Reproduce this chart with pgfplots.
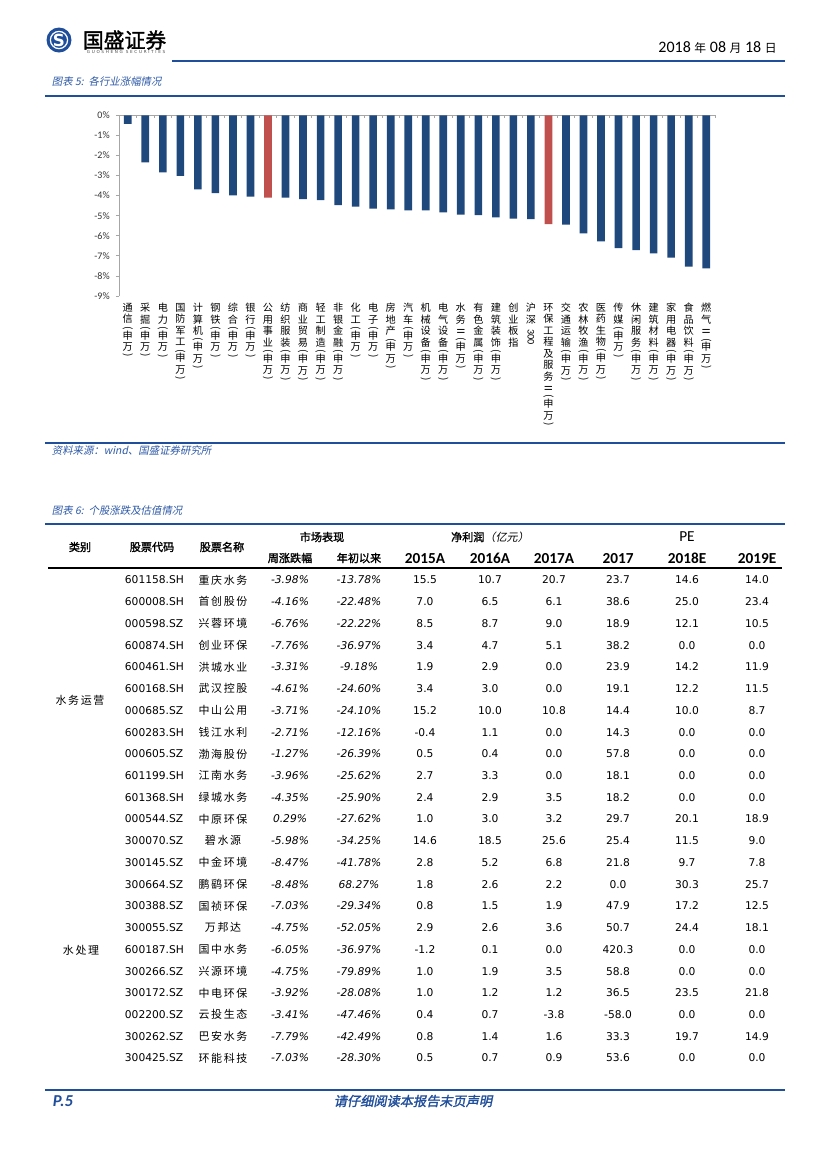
\documentclass[border=0pt]{standalone}
\usepackage{fontspec}
\usepackage{graphicx}
\usepackage{pgfplots}
\pgfplotsset{compat=1.18}
\setmainfont{DejaVu Sans}
\newfontfamily\cjk{Noto Sans CJK SC}
\newfontfamily\cjksp[LetterSpace=15]{Noto Sans CJK SC}
\newfontfamily\cjksl[FakeSlant=0.2]{Noto Sans CJK SC}
\newfontfamily\cjkb[FakeBold=1.5]{Noto Sans CJK SC}
\newfontfamily\cjkbsl[FakeBold=1.5,FakeSlant=0.2]{Noto Sans CJK SC}
\newfontfamily\carl{Carlito}
\newfontfamily\logosp[LetterSpace=40]{DejaVu Sans}
\definecolor{barblue}{HTML}{1F497D}
\definecolor{barred}{HTML}{C0504D}
\definecolor{lineblue}{HTML}{1F4E9A}
\definecolor{capblue}{HTML}{2E5AA7}
\definecolor{axisgray}{HTML}{A6A6A6}

% vertical category labels
\newcommand\sw{\\[-2.5pt]\rotatebox[origin=c]{-90}{(}\\[-2.5pt]申\\万\\[-2.5pt]\rotatebox[origin=c]{-90}{)}}
\newcommand\rII{\rotatebox[origin=c]{90}{Ⅱ}}
\newcommand\numf{\fontsize{7.7}{9}\selectfont}
\newcommand\namef{\cjksp\fontsize{7.9}{9}\selectfont}
\newcommand\headf{\cjkb\fontsize{8}{9}\selectfont}
\newcommand\yearf{\carl\bfseries\fontsize{11}{12}\selectfont}
\newcommand\capf{\cjksl\fontsize{7.5}{9}\selectfont\color{capblue}}

\begin{document}
\begin{tikzpicture}
\path[fill=white,use as bounding box] (0,0) rectangle (595.44pt,-841.68pt);

\begin{scope}[x=0.72pt,y=-0.72pt]
% header
\fill[lineblue] (59,40) circle (9pt);
\draw[white,line width=0.9pt] (59,40) circle (6.2pt);
\node[font=\fontsize{12}{12}\selectfont\bfseries,text=white] at (59,40) {S};
\node[anchor=west,font=\cjkb\fontsize{15}{16}\selectfont] at (78,40) {国盛证券};
\node[anchor=west,font=\logosp\fontsize{3}{3}\selectfont,text=black!70] at (82,52) {GUOSHENG SECURITIES};
\draw[lineblue,line width=1.5pt] (172,61) -- (785,61);
\node[anchor=east,inner sep=0pt] at (777,48) {\carl\fontsize{11.5}{13}\selectfont 2018 {\cjk\fontsize{8.5}{10}\selectfont 年} 08 {\cjk\fontsize{8.5}{10}\selectfont 月} 18 {\cjk\fontsize{8.5}{10}\selectfont 日}};

% figure 5 caption and frame
\node[anchor=west,font=\capf] at (47,82) {图表 5:\, 各行业涨幅情况};
\draw[lineblue,line width=1.5pt] (45,96) -- (785,96);
\draw[lineblue,line width=1.5pt] (45,443) -- (785,443);
\node[anchor=west,font=\capf] at (47,451) {资料来源：wind、国盛证券研究所};

% figure 6 table
\node[anchor=west,font=\capf] at (47,511) {图表 6:\, 个股涨跌及估值情况};
\draw[lineblue,line width=1.5pt] (45,524) -- (785,524);
\node[font=\headf] at (80,547) {类别};
\node[font=\headf] at (152,547) {股票代码};
\node[font=\headf] at (222,547) {股票名称};
\node[font=\headf] at (322,537) {市场表现};
\node[font=\headf] at (290,558) {周涨跌幅};
\node[font=\headf] at (359,558) {年初以来};
\node at (490,537) {{\headf 净利润}{\cjksl\fontsize{8}{9}\selectfont （亿元）}};
\node[font=\carl\fontsize{11}{12}\selectfont,anchor=base] at (687,541) {PE};
\node[font=\yearf,anchor=base] at (425,563) {2015A};
\node[font=\yearf,anchor=base] at (490,563) {2016A};
\node[font=\yearf,anchor=base] at (554,563) {2017A};
\node[font=\yearf,anchor=base] at (618,563) {2017};
\node[font=\yearf,anchor=base] at (687,563) {2018E};
\node[font=\yearf,anchor=base] at (757,563) {2019E};
\draw[black,line width=0.8pt] (48,568) -- (782,568);

\foreach \ri/\rc/\rn/\pa/\pb/\va/\vb/\vc/\vd/\ve/\vf in {
 1/601158.SH/重庆水务/-3.98/-13.78/15.5/10.7/20.7/23.7/14.6/14.0,
 2/600008.SH/首创股份/-4.16/-22.48/7.0/6.5/6.1/38.6/25.0/23.4,
 3/000598.SZ/兴蓉环境/-6.76/-22.22/8.5/8.7/9.0/18.9/12.1/10.5,
 4/600874.SH/创业环保/-7.76/-36.97/3.4/4.7/5.1/38.2/0.0/0.0,
 5/600461.SH/洪城水业/-3.31/-9.18/1.9/2.9/0.0/23.9/14.2/11.9,
 6/600168.SH/武汉控股/-4.61/-24.60/3.4/3.0/0.0/19.1/12.2/11.5,
 7/000685.SZ/中山公用/-3.71/-24.10/15.2/10.0/10.8/14.4/10.0/8.7,
 8/600283.SH/钱江水利/-2.71/-12.16/-0.4/1.1/0.0/14.3/0.0/0.0,
 9/000605.SZ/渤海股份/-1.27/-26.39/0.5/0.4/0.0/57.8/0.0/0.0,
 10/601199.SH/江南水务/-3.96/-25.62/2.7/3.3/0.0/18.1/0.0/0.0,
 11/601368.SH/绿城水务/-4.35/-25.90/2.4/2.9/3.5/18.2/0.0/0.0,
 12/000544.SZ/中原环保/0.29/-27.62/1.0/3.0/3.2/29.7/20.1/18.9,
 13/300070.SZ/碧水源/-5.98/-34.25/14.6/18.5/25.6/25.4/11.5/9.0,
 14/300145.SZ/中金环境/-8.47/-41.78/2.8/5.2/6.8/21.8/9.7/7.8,
 15/300664.SZ/鹏鹞环保/-8.48/68.27/1.8/2.6/2.2/0.0/30.3/25.7,
 16/300388.SZ/国祯环保/-7.03/-29.34/0.8/1.5/1.9/47.9/17.2/12.5,
 17/300055.SZ/万邦达/-4.75/-52.05/2.9/2.6/3.6/50.7/24.4/18.1,
 18/600187.SH/国中水务/-6.05/-36.97/-1.2/0.1/0.0/420.3/0.0/0.0,
 19/300266.SZ/兴源环境/-4.75/-79.89/1.0/1.9/3.5/58.8/0.0/0.0,
 20/300172.SZ/中电环保/-3.92/-28.08/1.0/1.2/1.2/36.5/23.5/21.8,
 21/002200.SZ/云投生态/-3.41/-47.46/0.4/0.7/-3.8/-58.0/0.0/0.0,
 22/300262.SZ/巴安水务/-7.79/-42.49/0.8/1.4/1.6/33.3/19.7/14.9,
 23/300425.SZ/环能科技/-7.03/-28.30/0.5/0.7/0.9/53.6/0.0/0.0}{
  \pgfmathsetmacro\yy{580+(\ri-1)*21.73}
  \node[anchor=west,font=\numf] at (120,\yy) {\rc};
  \node[font=\namef] at (223,\yy) {\rn};
  \node[font=\numf\itshape] at (290,\yy) {\pa\%};
  \node[font=\numf\itshape] at (359,\yy) {\pb\%};
  \node[font=\numf] at (425,\yy) {\va};
  \node[font=\numf] at (490,\yy) {\vb};
  \node[font=\numf] at (554,\yy) {\vc};
  \node[font=\numf] at (618,\yy) {\vd};
  \node[font=\numf] at (687,\yy) {\ve};
  \node[font=\numf] at (757,\yy) {\vf};
}
\node[font=\namef] at (80,700) {水务运营};
\node[font=\namef] at (81,950) {水处理};

% footer
\draw[lineblue,line width=1.5pt] (45,1090) -- (785,1090);
\node[anchor=west,text=lineblue,font=\carl\bfseries\itshape\fontsize{12}{13}\selectfont] at (48,1101) {P.5};
\node[text=lineblue,font=\cjkbsl\fontsize{9.5}{11}\selectfont] at (413,1101) {请仔细阅读本报告末页声明};
\end{scope}

% chart: bars, y axis and zero line with category ticks
\begin{axis}[
  at={(119*0.72pt,-296*0.72pt)}, anchor=south west,
  scale only axis, width=429.1pt, height=130.1pt,
  xmin=0.5, xmax=34.5, ymin=-9, ymax=0,
  axis x line=top, axis y line=left,
  axis line style={-,draw=axisgray,line width=0.6pt},
  xtick={0.5,1.5,...,34.5}, xticklabel={\relax},
  ytick={-9,-8,...,0},
  yticklabels={-9\%,-8\%,-7\%,-6\%,-5\%,-4\%,-3\%,-2\%,-1\%,0\%},
  tick align=inside, major tick length=2.2pt,
  tick style={draw=axisgray,line width=0.6pt},
  ytick style={xshift=-2.2pt},
  yticklabel style={font=\carl\fontsize{7.2}{8}\selectfont, text=black!80, xshift=-5.5pt, inner sep=1pt},
]
\addplot[ybar, bar width=5.5pt, bar shift=0pt, fill=barblue, draw=none] coordinates {
 (1,-0.42) (2,-2.34) (3,-2.84) (4,-3.01) (5,-3.69) (6,-3.87) (7,-3.99) (8,-4.05)
 (10,-4.10) (11,-4.17) (12,-4.22) (13,-4.47) (14,-4.55) (15,-4.65) (16,-4.68)
 (17,-4.73) (18,-4.73) (19,-4.83) (20,-4.95) (21,-4.97) (22,-5.08) (23,-5.15)
 (24,-5.17) (26,-5.45) (27,-5.88) (28,-6.28) (29,-6.61) (30,-6.71) (31,-6.88)
 (32,-7.09) (33,-7.54) (34,-7.62)
};
\addplot[ybar, bar width=5.5pt, bar shift=0pt, fill=barred, draw=none] coordinates {
 (9,-4.10) (25,-5.42)
};
\end{axis}

% chart: vertical category names below the plot
\begin{axis}[
  at={(119*0.72pt,-296*0.72pt)}, anchor=south west,
  scale only axis, width=429.1pt, height=130.1pt,
  xmin=0.5, xmax=34.5, ymin=-9, ymax=0,
  hide y axis, axis x line*=bottom,
  x axis line style={draw=none},
  xtick={1,2,...,34}, major tick length=0pt, xtick style={draw=none},
  xticklabel style={font=\cjk\fontsize{7.3}{8.3}\selectfont, align=center, anchor=north, inner sep=0pt, yshift=-5pt},
  xticklabels={{通\\信\sw},{采\\掘\sw},{电\\力\sw},{国\\防\\军\\工\sw},{计\\算\\机\sw},{钢\\铁\sw},{综\\合\sw},{银\\行\sw},{公\\用\\事\\业\sw},{纺\\织\\服\\装\sw},{商\\业\\贸\\易\sw},{轻\\工\\制\\造\sw},{非\\银\\金\\融\sw},{化\\工\sw},{电\\子\sw},{房\\地\\产\sw},{汽\\车\sw},{机\\械\\设\\备\sw},{电\\气\\设\\备\sw},{水\\务\\\rII\sw},{有\\色\\金\\属\sw},{建\\筑\\装\\饰\sw},{创\\业\\板\\指},{沪\\深\\[-4pt]\rotatebox{-90}{\carl 300}},{环\\保\\工\\程\\及\\服\\务\\\rII\sw},{交\\通\\运\\输\sw},{农\\林\\牧\\渔\sw},{医\\药\\生\\物\sw},{传\\媒\sw},{休\\闲\\服\\务\sw},{建\\筑\\材\\料\sw},{家\\用\\电\\器\sw},{食\\品\\饮\\料\sw},{燃\\气\\\rII\sw}},
]
\end{axis}
\end{tikzpicture}
\end{document}
